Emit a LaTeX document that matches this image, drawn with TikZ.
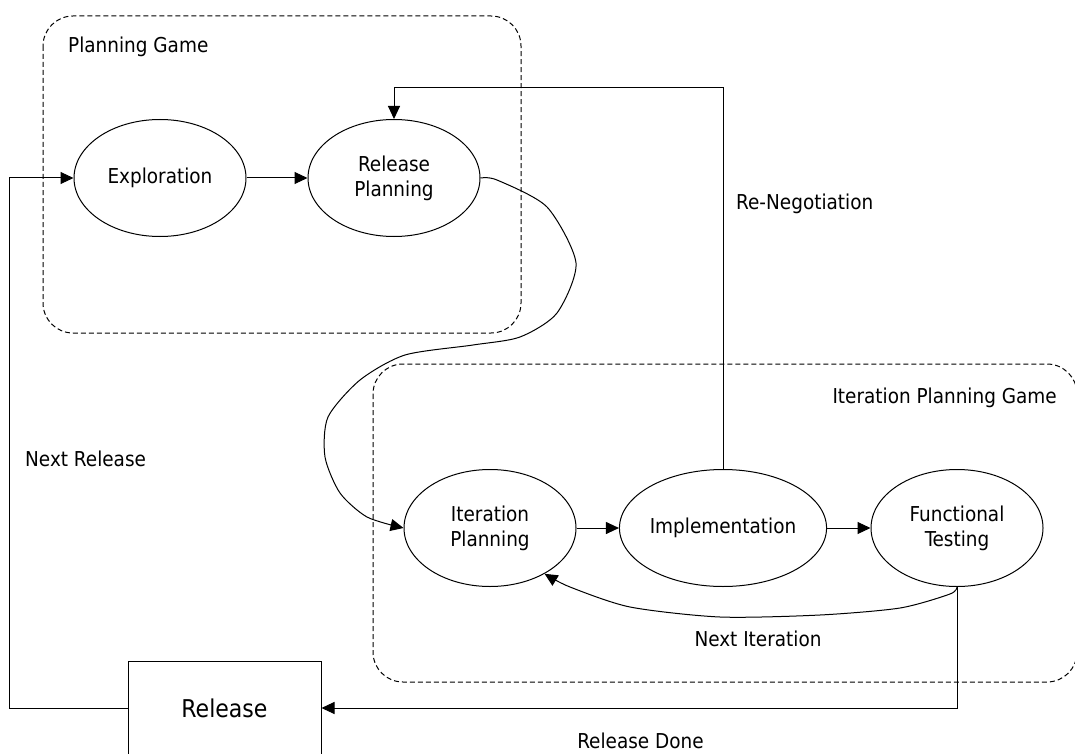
\documentclass[tikz,border=0pt]{standalone}
\usepackage{fontspec}
\setmainfont{DejaVu Sans Condensed}
\usetikzlibrary{arrows.meta,shapes.geometric}
\begin{document}
\begin{tikzpicture}[x=1pt,y=-1pt,
  every node/.style={font=\fontsize{20.5}{25}\selectfont},
  stage/.style={draw,ellipse,line width=1pt,minimum width=172pt,minimum height=117pt,inner sep=0pt,align=center},
  relbox/.style={draw,rectangle,line width=1pt,minimum width=193pt,minimum height=94pt,inner sep=0pt,font=\fontsize{24.5}{29}\selectfont},
  group/.style={draw,dash pattern=on 5pt off 3pt,line width=1pt,rounded corners=30pt},
  lbl/.style={inner sep=0pt},
  arr/.style={line width=1pt,-{Triangle[length=13pt,width=12pt]}}]
\clip (0,0) rectangle (1075,754);
\fill[white] (0,0) rectangle (1075,754);
% groups
\draw[group] (43,16) rectangle (521,333);
\draw[group] (373,364) rectangle (1077,682);
\node[lbl,anchor=west] (pg) at (68,47) {Planning Game};
\node[lbl,anchor=east] (ipg) at (1057,398) {Iteration Planning Game};
% stages
\node[stage] (ex) at (160,178) {Exploration};
\node[stage] (rp) at (394,178) {Release\\Planning};
\node[stage] (ip) at (490,528) {Iteration\\Planning};
\node[stage] (im) at (723,528) {Implementation};
\node[stage] (ft) at (957,528) {Functional\\Testing};
\node[relbox] (rel) at (224.5,708) {Release};
% connectors
\draw[arr] (ex) -- (rp);
\draw[arr] (ip) -- (im);
\draw[arr] (im) -- (ft);
\draw[arr] (im.north) -- ++(0,-381) -| (rp.north);
\draw[arr] plot[smooth,tension=0.45] coordinates {(rp.east) (497,180) (547,207) (576,263) (557,313) (520,337) (473,345) (405,355) (360,380) (328,417) (325,457) (340,493) (367,517) (ip.west)};
\draw[arr] plot[smooth,tension=0.45] coordinates {(ft.south) (950,594) (900,608) (820,615) (720,617) (630,607) (570,587) (ip.-40)};
\draw[arr] (ft.south) |- (rel.east);
\draw[arr] (rel.west) -- ++(-118,0) |- (ex.west);
% labels
\node[lbl,anchor=west] (rn) at (736,204) {Re-Negotiation};
\node[lbl] (ni) at (758,639) {Next Iteration};
\node[lbl] (rd) at (640.5,741) {Release Done};
\node[lbl,anchor=west] (nr) at (25,459) {Next Release};
\end{tikzpicture}
\end{document}
